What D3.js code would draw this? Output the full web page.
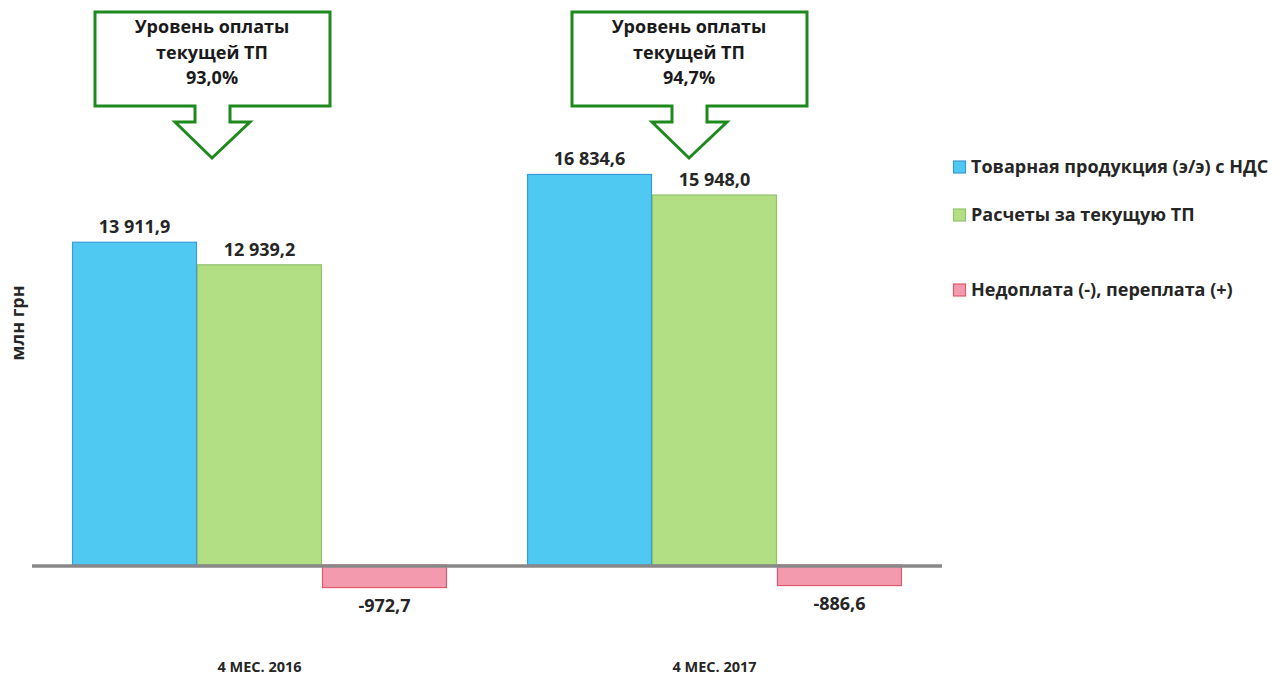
<!DOCTYPE html>
<html><head><meta charset="utf-8">
<script src="https://cdn.jsdelivr.net/npm/d3@7"></script>
<style>body{margin:0;background:#fff;}svg{display:block;font-family:"Open Sans","Noto Sans",sans-serif;}</style>
</head><body><svg id="c" width="1286" height="677"></svg>
<script>
const categories = ["4 МЕС. 2016", "4 МЕС. 2017"];
const seriesNames = ["Товарная продукция (э/э) с НДС", "Расчеты за текущую ТП", "Недоплата (-), переплата (+)"];
const tpValues = [13911.9, 16834.6];
const paidValues = [12939.2, 15948.0];
const diffValues = [-972.7, -886.6];
const payLevel = ["93,0%", "94,7%"];
const fills = ["#4FC8F2", "#B3DF84", "#F49AAE"];
const strokes = ["#3B9BD6", "#93C26E", "#DE5B6B"];

const svg = d3.select("#c");
const x0 = d3.scaleBand().domain(categories).range([32, 942]).paddingInner(0.176).paddingOuter(0.088);
const x1 = d3.scaleBand().domain(seriesNames).range([0, x0.bandwidth()]);
const y = d3.scaleLinear().domain([-2000, 18000]).range([611.4, 147.4]);
const fmt = v => {
  const s = Math.abs(v).toFixed(1).split(".");
  const int = s[0].replace(/\B(?=(\d{3})+(?!\d))/g, " ");
  return (v < 0 ? "-" : "") + int + "," + s[1];
};
const data = categories.map((c, i) => ({c, vals: [tpValues[i], paidValues[i], diffValues[i]]}));

const g = svg.append("g");
data.forEach((d, i) => {
  d.vals.forEach((v, j) => {
    const xx = x0(d.c) + x1(seriesNames[j]);
    const top = Math.min(y(v), y(0)), h = Math.abs(y(v) - y(0));
    g.append("rect").attr("x", xx + 0.5).attr("y", top).attr("width", x1.bandwidth() - 1).attr("height", h)
      .attr("fill", fills[j]).attr("stroke", strokes[j]).attr("stroke-width", 1.2);
    g.append("text").attr("x", xx + x1.bandwidth() / 2)
      .attr("y", v >= 0 ? y(v) - 9 : y(v) + 24)
      .attr("text-anchor", "middle").attr("font-size", 18).attr("font-weight", "bold").attr("fill", "#262626")
      .text(fmt(v));
  });
});
// zero axis line
svg.append("line").attr("x1", 32).attr("x2", 942).attr("y1", y(0) + 1).attr("y2", y(0) + 1)
  .attr("stroke", "#888888").attr("stroke-width", 3.5);

// category labels
const xAxis = d3.axisBottom(x0).tickSize(0);
const ax = svg.append("g").attr("transform", "translate(0,672)").call(xAxis);
ax.select(".domain").remove();
ax.selectAll("text").attr("dy", 0).attr("y", 0).attr("font-size", 14.5).attr("font-weight", "bold").attr("fill", "#262626")
  .attr("font-family", "\"Open Sans\",sans-serif");

// y label
svg.append("text").attr("transform", "translate(24,323) rotate(-90)").attr("text-anchor", "middle")
  .attr("font-size", 18).attr("font-weight", "bold").attr("fill", "#262626").text("млн грн");

// callouts
const callCx = [212, 689];
callCx.forEach((cx, i) => {
  const L = cx - 117, R = cx + 118, T = 12, B = 106;
  const sL = cx - 17, sR = cx + 18, sB = 122, hL = cx - 37, hR = cx + 38, tip = 158;
  const p = `M${L},${T} L${R},${T} L${R},${B} L${sR},${B} L${sR},${sB} L${hR},${sB} L${cx},${tip} L${hL},${sB} L${sL},${sB} L${sL},${B} L${L},${B} Z`;
  svg.append("path").attr("d", p).attr("fill", "#fff").attr("stroke", "#1E8A1E").attr("stroke-width", 3).attr("stroke-linejoin", "miter");
  const lines = ["Уровень оплаты", "текущей ТП", payLevel[i]];
  lines.forEach((t, k) => {
    svg.append("text").attr("x", cx).attr("y", 33 + k * 25.5).attr("text-anchor", "middle")
      .attr("font-size", 18).attr("font-weight", "bold").attr("fill", "#1a1a1a").text(t);
  });
});

// legend
const legY = [167, 215, 290];
seriesNames.forEach((n, j) => {
  svg.append("rect").attr("x", 953.5).attr("y", legY[j] - 6).attr("width", 12).attr("height", 12)
    .attr("fill", fills[j]).attr("stroke", strokes[j]).attr("stroke-width", 1.2);
  svg.append("text").attr("x", 971).attr("y", legY[j] + 6).attr("font-size", 18).attr("font-weight", "bold")
    .attr("fill", "#262626").text(n);
});
</script></body></html>
